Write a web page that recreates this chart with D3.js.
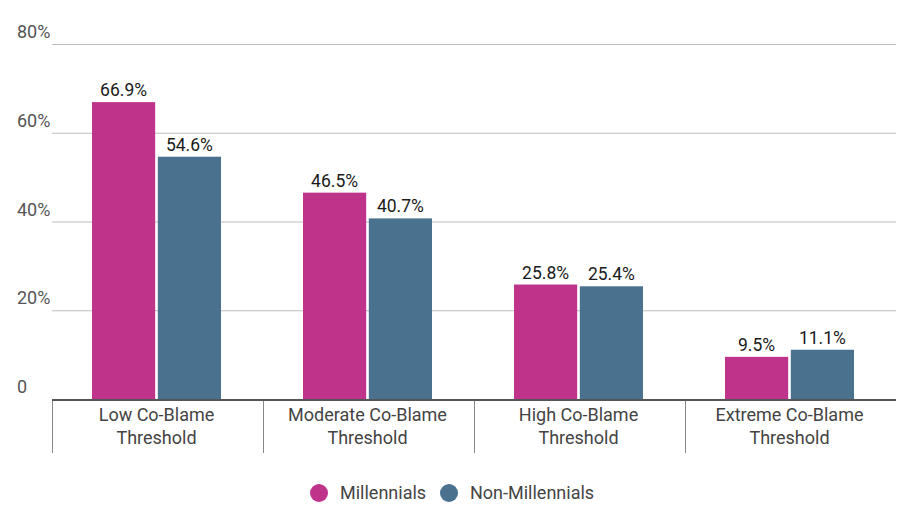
<!DOCTYPE html>
<html>
<head>
<meta charset="utf-8">
<script src="https://cdn.jsdelivr.net/npm/d3@7"></script>
<style>
  body { margin: 0; background: #fff; }
  svg { display: block; font-family: Roboto, sans-serif; }
</style>
</head>
<body>
<div id="chart"></div>
<script>
const categories = [["Low Co-Blame", "Threshold"], ["Moderate Co-Blame", "Threshold"], ["High Co-Blame", "Threshold"], ["Extreme Co-Blame", "Threshold"]];
const seriesNames = ["Millennials", "Non-Millennials"];
const millennials = [66.9, 46.5, 25.8, 9.5];
const nonMillennials = [54.6, 40.7, 25.4, 11.1];
const yTicks = [0, 20, 40, 60, 80];
const colors = ["#C0338A", "#4A718E"];

const width = 914, height = 519;
const margin = { top: 44, right: 18, bottom: 120, left: 52 };

const svg = d3.select("#chart").append("svg")
    .attr("width", width)
    .attr("height", height);

const x = d3.scaleBand()
    .domain(d3.range(categories.length))
    .range([margin.left, width - margin.right]);

const inner = d3.scaleBand()
    .domain(seriesNames)
    .range([0, 129])
    .paddingInner(0.04);

const y = d3.scaleLinear()
    .domain([0, 80])
    .range([height - margin.bottom, margin.top]);

// gridlines + tick labels
const grid = svg.append("g");
grid.selectAll("line")
    .data(yTicks.filter(d => d > 0))
    .enter().append("line")
    .attr("x1", margin.left)
    .attr("x2", width - margin.right)
    .attr("y1", d => y(d) + 0.5)
    .attr("y2", d => y(d) + 0.5)
    .attr("stroke", "#bdbdbd")
    .attr("stroke-width", 1);

grid.selectAll("text")
    .data(yTicks)
    .enter().append("text")
    .attr("x", 17)
    .attr("y", d => y(d) - 6)
    .attr("fill", "#555")
    .style("font-size", "18px")
    .text(d => d === 0 ? "0" : d + "%");

const data = categories.map((c, i) => [
    { s: seriesNames[0], v: millennials[i], i },
    { s: seriesNames[1], v: nonMillennials[i], i }
]);

const groups = svg.append("g")
    .selectAll("g")
    .data(data)
    .enter().append("g")
    .attr("transform", (d, i) => `translate(${x(i) + (x.bandwidth() - 129) / 2 - 1},0)`);

groups.selectAll("rect")
    .data(d => d)
    .enter().append("rect")
    .attr("x", d => inner(d.s))
    .attr("width", inner.bandwidth())
    .attr("y", d => y(d.v))
    .attr("height", d => y(0) - y(d.v))
    .attr("fill", (d, j) => colors[j]);

groups.selectAll("text")
    .data(d => d)
    .enter().append("text")
    .attr("x", d => inner(d.s) + inner.bandwidth() / 2)
    .attr("y", d => y(d.v) - 6)
    .attr("text-anchor", "middle")
    .attr("fill", "#1a1a1a")
    .style("font-size", "17.5px")
    .text(d => d.v.toFixed(1) + "%");

// baseline
svg.append("line")
    .attr("x1", margin.left)
    .attr("x2", width - margin.right)
    .attr("y1", y(0) + 1)
    .attr("y2", y(0) + 1)
    .attr("stroke", "#555")
    .attr("stroke-width", 2);

// category separators
svg.append("g")
    .selectAll("line")
    .data(d3.range(categories.length))
    .enter().append("line")
    .attr("x1", i => x(i) + 0.5)
    .attr("x2", i => x(i) + 0.5)
    .attr("y1", y(0) + 2)
    .attr("y2", y(0) + 54)
    .attr("stroke", "#888")
    .attr("stroke-width", 1);

// category labels
const catLabels = svg.append("g")
    .selectAll("text")
    .data(categories)
    .enter().append("text")
    .attr("text-anchor", "middle")
    .attr("fill", "#444")
    .style("font-size", "18px");

catLabels.selectAll("tspan")
    .data((d, i) => d.map(t => ({ t, i })))
    .enter().append("tspan")
    .attr("x", d => x(d.i) + x.bandwidth() / 2 - 1)
    .attr("y", (d, k) => y(0) + 22 + k * 23)
    .text(d => d.t);

// legend
const legend = svg.append("g");
const legendItems = [
    { name: seriesNames[0], cx: 319 },
    { name: seriesNames[1], cx: 449 }
];
legend.selectAll("circle")
    .data(legendItems)
    .enter().append("circle")
    .attr("cx", d => d.cx)
    .attr("cy", 493)
    .attr("r", 9)
    .attr("fill", (d, j) => colors[j]);
legend.selectAll("text")
    .data(legendItems)
    .enter().append("text")
    .attr("x", d => d.cx + 21)
    .attr("y", 499)
    .attr("fill", "#444")
    .style("font-size", "18px")
    .text(d => d.name);
</script>
</body>
</html>
